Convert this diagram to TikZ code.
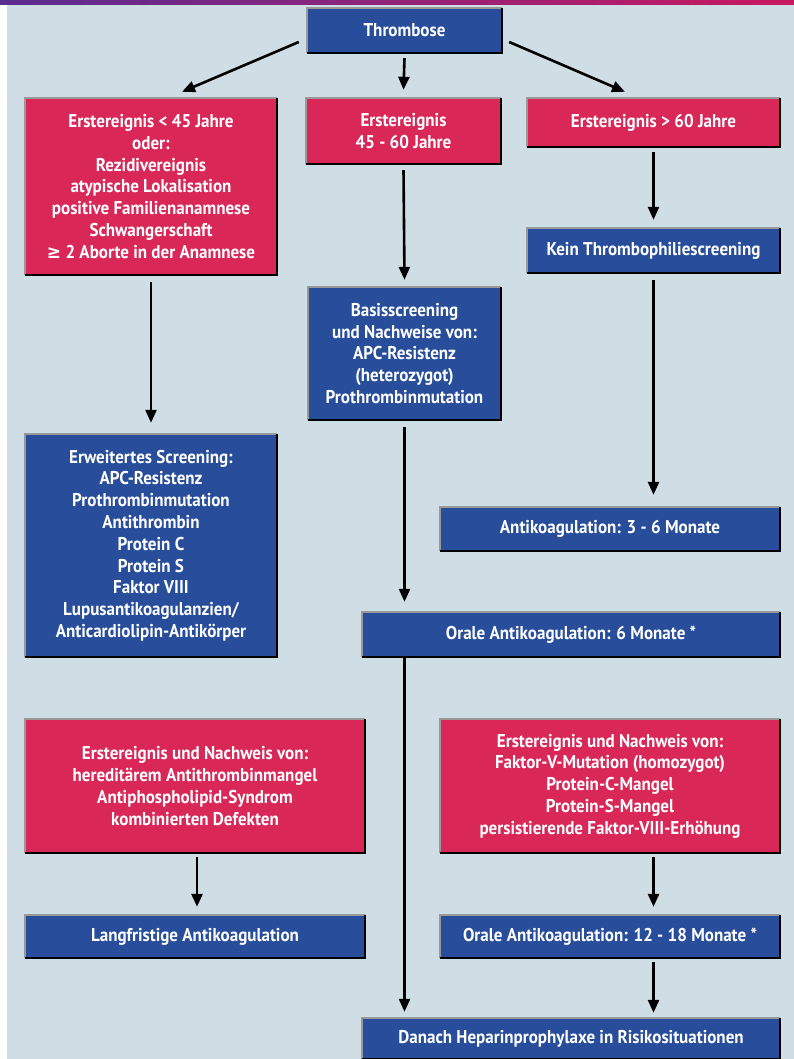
\documentclass[tikz,border=0pt]{standalone}
\usepackage{fontspec}
\setmainfont{PT Sans}
\newfontfamily\boxfont[FakeStretch=0.92]{PT Sans}
\newfontfamily\symfont[FakeStretch=0.92]{DejaVu Sans}
\usetikzlibrary{arrows.meta,calc}
\definecolor{bgc}{RGB}{207,221,228}
\definecolor{redc}{RGB}{217,40,88}
\definecolor{bluec}{RGB}{40,78,155}
\definecolor{barl}{RGB}{90,45,145}
\definecolor{barr}{RGB}{200,25,95}
\newcommand\mybevel[1]{%
  \draw[line width=1.5pt,color=gray!80] (#1.south west) -- (#1.north west) -- (#1.north east);
  \draw[line width=2.5pt,color=black] (#1.south west) -- (#1.south east) -- (#1.north east);}
\tikzset{
  box/.style={rectangle, inner sep=0pt, align=center, text=white,
    font=\boxfont\bfseries\fontsize{18.5}{21.8}\selectfont},
  redbox/.style={box, fill=redc},
  bluebox/.style={box, fill=bluec},
  arr/.style={-{Triangle[length=13pt,width=11pt]}, line width=2.6pt, black}
}
\begin{document}
\begin{tikzpicture}[x=1pt,y=-1pt]
\useasboundingbox (0,0) rectangle (794,1059);
\fill[white] (0,0) rectangle (794,1059);
\fill[bgc] (7,5) rectangle (794,1059);
\shade[left color=barl,right color=barr] (0,0) rectangle (794,5);

\node[bluebox, minimum width=195pt, minimum height=45pt] (T) at (404.5,30.5) {Thrombose};
\node[redbox, minimum width=252pt, minimum height=177pt] (A) at (151,186.5)
  {Erstereignis < 45 Jahre\\oder:\\Rezidivereignis\\atypische Lokalisation\\positive Familienanamnese\\Schwangerschaft\\{\symfont ≥} 2 Aborte in der Anamnese};
\node[redbox, minimum width=195pt, minimum height=66pt] (B) at (403.5,131) {Erstereignis\\45 - 60 Jahre};
\node[redbox, minimum width=253pt, minimum height=49pt] (C) at (653.5,122.5) {Erstereignis > 60 Jahre};
\node[bluebox, minimum width=253pt, minimum height=45pt] (D) at (653.5,250.5) {Kein Thrombophiliescreening};
\node[bluebox, minimum width=193pt, minimum height=133pt] (E) at (404.5,353.5)
  {Basisscreening\\und Nachweise von:\\APC-Resistenz\\(heterozygot)\\Prothrombinmutation};
\node[bluebox, minimum width=252pt, minimum height=223pt] (F) at (151,545.5)
  {Erweitertes Screening:\\APC-Resistenz\\Prothrombinmutation\\Antithrombin\\Protein C\\Protein S\\Faktor VIII\\Lupusantikoagulanzien/\\Anticardiolipin-Antikörper};
\node[bluebox, minimum width=340pt, minimum height=44pt] (G) at (610,529) {Antikoagulation: 3 - 6 Monate};
\node[bluebox, minimum width=418pt, minimum height=45pt] (H) at (571,634.5) {Orale Antikoagulation: 6 Monate *};
\node[redbox, minimum width=340pt, minimum height=134pt] (I) at (195,786)
  {Erstereignis und Nachweis von:\\hereditärem Antithrombinmangel\\Antiphospholipid-Syndrom\\kombinierten Defekten};
\node[redbox, minimum width=340pt, minimum height=134pt] (J) at (610,786)
  {Erstereignis und Nachweis von:\\Faktor-V-Mutation (homozygot)\\Protein-C-Mangel\\Protein-S-Mangel\\persistierende Faktor-VIII-Erhöhung};
\node[bluebox, minimum width=340pt, minimum height=43pt] (K) at (195,936.5) {Langfristige Antikoagulation};
\node[bluebox, minimum width=340pt, minimum height=43pt] (L) at (610,936.5) {Orale Antikoagulation: 12 - 18 Monate *};
\node[bluebox, minimum width=418pt, minimum height=41pt] (M) at (571,1038.5) {Danach Heparinprophylaxe in Risikosituationen};

\foreach \n in {T,A,B,C,D,E,F,G,H,I,J,K,L,M} {\mybevel{\n}}

\coordinate (c1) at (E.south |- H.north);
\coordinate (c2) at (E.south |- H.south);
\coordinate (c3) at (E.south |- M.north);
\coordinate (c4) at (D.south |- G.north);
\coordinate (c5) at (D.south |- J.south);
\coordinate (c6) at (D.south |- L.north);
\coordinate (c7) at (D.south |- L.south);
\coordinate (c8) at (D.south |- M.north);

\draw[arr] ([xshift=-8pt,yshift=-11.5pt]T.west) -- ([xshift=31pt,yshift=6pt]A.north);
\draw[arr] ([yshift=-5pt]T.south) -- ([yshift=8pt]B.north);
\draw[arr] ([xshift=7pt,yshift=-11.5pt]T.east) -- ([xshift=-28.5pt,yshift=6pt]C.north);
\draw[arr] ([yshift=-5pt]C.south) -- ([yshift=8pt]D.north);
\draw[arr] ([yshift=-6pt]B.south) -- ([yshift=7pt]E.north);
\draw[arr] ([yshift=-7pt]A.south) -- ([yshift=11pt]F.north);
\draw[arr] ([yshift=-7pt]D.south) -- ([yshift=12pt]c4);
\draw[arr] ([yshift=-7pt]E.south) -- ([yshift=10pt]c1);
\draw[arr] (c2) -- ([yshift=6pt]c3);
\draw[arr] ([xshift=2pt,yshift=-4pt]I.south) -- ([xshift=2pt,yshift=8pt]K.north);
\draw[arr] ([yshift=-4pt]c5) -- ([yshift=8pt]c6);
\draw[arr] ([yshift=-4pt]c7) -- ([yshift=5pt]c8);
\end{tikzpicture}
\end{document}
